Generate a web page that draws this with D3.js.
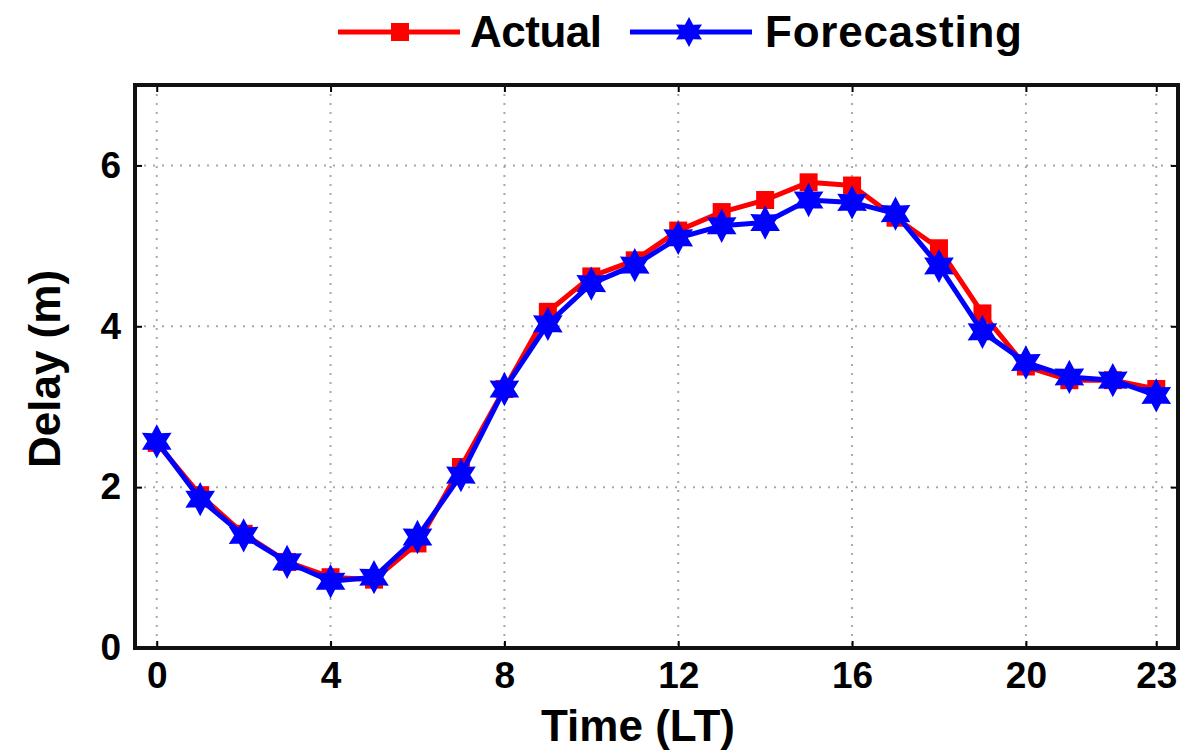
<html>
<head>
<meta charset="utf-8">
<script src="https://d3js.org/d3.v7.min.js"></script>
<style>
body { margin: 0; background: #fff; }
text { font-family: "Liberation Sans", Arial, Helvetica, sans-serif; font-weight: bold; }
</style>
</head>
<body>
<svg id="svg" width="1185" height="754"></svg>
<script>
'use strict';

const hours = d3.range(0, 24);
const actual = [2.55, 1.9, 1.42, 1.07, 0.88, 0.85, 1.3, 2.25, 3.22, 4.18, 4.62, 4.82, 5.19, 5.42, 5.57, 5.79, 5.75, 5.35, 4.97, 4.16, 3.5, 3.33, 3.33, 3.22];
const forecast = [2.57, 1.85, 1.4, 1.07, 0.83, 0.88, 1.38, 2.15, 3.22, 4.03, 4.53, 4.76, 5.1, 5.25, 5.29, 5.57, 5.54, 5.4, 4.75, 3.93, 3.55, 3.37, 3.33, 3.14];
const xTicks = [0, 4, 8, 12, 16, 20, 23];
const yTicks = [0, 2, 4, 6];
const seriesNames = ['Actual', 'Forecasting'];

const mLeft = 135, mRight = 1178, mTop = 85, mBottom = 648;
const svg = d3.select('#svg');

const x = d3.scaleLinear().domain([-0.5, 23.5]).range([mLeft, mRight]);
const y = d3.scaleLinear().domain([0, 7]).range([mBottom, mTop]);

// grid
const grid = svg.append('g').attr('stroke', '#a8a8a8').attr('stroke-width', 2).attr('stroke-dasharray', '2,7');
grid.selectAll('.gx').data(xTicks).join('line').attr('class', 'gx')
	.attr('x1', d => x(d)).attr('x2', d => x(d)).attr('y1', mTop).attr('y2', mBottom);
grid.selectAll('.gy').data(yTicks.filter(d => d > 0)).join('line').attr('class', 'gy')
	.attr('x1', mLeft).attr('x2', mRight).attr('y1', d => y(d)).attr('y2', d => y(d));

// axes
const tickFont = g => g.selectAll('text').attr('font-size', 37).attr('fill', '#000')
	.style('font-family', '"Liberation Sans", Arial, sans-serif').style('font-weight', 'bold');
const tickLines = g => g.selectAll('line').attr('stroke', '#000').attr('stroke-width', 2);

svg.append('g').attr('transform', `translate(0,${mBottom})`)
	.call(d3.axisBottom(x).tickValues(xTicks).tickSize(-7).tickPadding(14).tickFormat(d3.format('d')))
	.call(g => g.select('.domain').remove())
	.call(tickLines).call(tickFont);
svg.append('g').attr('transform', `translate(0,${mTop})`)
	.call(d3.axisTop(x).tickValues(xTicks).tickSize(-7).tickFormat(''))
	.call(g => g.select('.domain').remove())
	.call(tickLines);
svg.append('g').attr('transform', `translate(${mLeft},0)`)
	.call(d3.axisLeft(y).tickValues(yTicks).tickSize(-7).tickPadding(14).tickFormat(d3.format('d')))
	.call(g => g.select('.domain').remove())
	.call(tickLines).call(tickFont);
svg.append('g').attr('transform', `translate(${mRight},0)`)
	.call(d3.axisRight(y).tickValues(yTicks).tickSize(-7).tickFormat(''))
	.call(g => g.select('.domain').remove())
	.call(tickLines);

svg.append('rect').attr('x', mLeft).attr('y', mTop).attr('width', mRight - mLeft).attr('height', mBottom - mTop)
	.attr('fill', 'none').attr('stroke', '#111').attr('stroke-width', 4);

// axis titles
svg.append('text').attr('x', 638).attr('y', 741).attr('text-anchor', 'middle')
	.attr('font-size', 44).text('Time (LT)');
svg.append('text').attr('transform', 'translate(60,369) rotate(-90)').attr('text-anchor', 'middle')
	.attr('font-size', 44).text('Delay (m)');

// hexagram marker
function hexagram(r) {
	const pts = [];
	for (let i = 0; i < 12; i++) {
		const a = Math.PI / 6 * i - Math.PI / 2;
		const rr = i % 2 === 0 ? r : r * 0.55;
		pts.push([rr * Math.cos(a), rr * Math.sin(a)]);
	}
	return 'M' + pts.map(p => p.join(',')).join('L') + 'Z';
}

const line = d3.line().x((d, i) => x(hours[i])).y(d => y(d));

function drawSeries(vals, color, marker) {
	svg.append('path').datum(vals).attr('d', line)
		.attr('fill', 'none').attr('stroke', color).attr('stroke-width', 5).attr('stroke-linejoin', 'round');
	const g = svg.append('g');
	if (marker === 'square') {
		g.selectAll('rect').data(vals).join('rect')
			.attr('x', (d, i) => x(hours[i]) - 9).attr('y', d => y(d) - 9)
			.attr('width', 18).attr('height', 18).attr('fill', color);
	} else {
		g.selectAll('path').data(vals).join('path')
			.attr('transform', (d, i) => `translate(${x(hours[i])},${y(d)})`)
			.attr('d', hexagram(15)).attr('fill', color).attr('stroke', color).attr('stroke-width', 2);
	}
}

drawSeries(actual, '#ff0000', 'square');
drawSeries(forecast, '#0000ff', 'star');

// legend
const lg = svg.append('g');
lg.append('line').attr('x1', 338).attr('x2', 460).attr('y1', 32).attr('y2', 32).attr('stroke', '#ff0000').attr('stroke-width', 5);
lg.append('rect').attr('x', 391).attr('y', 23).attr('width', 18).attr('height', 18).attr('fill', '#ff0000');
lg.append('text').attr('x', 470).attr('y', 47).attr('font-size', 44).attr('textLength', 132).text(seriesNames[0]);
lg.append('line').attr('x1', 630).attr('x2', 752).attr('y1', 32).attr('y2', 32).attr('stroke', '#0000ff').attr('stroke-width', 5);
lg.append('path').attr('transform', 'translate(689,32)').attr('d', hexagram(15)).attr('fill', '#0000ff');
lg.append('text').attr('x', 765).attr('y', 47).attr('font-size', 44).attr('textLength', 257).text(seriesNames[1]);
</script>
</body>
</html>
